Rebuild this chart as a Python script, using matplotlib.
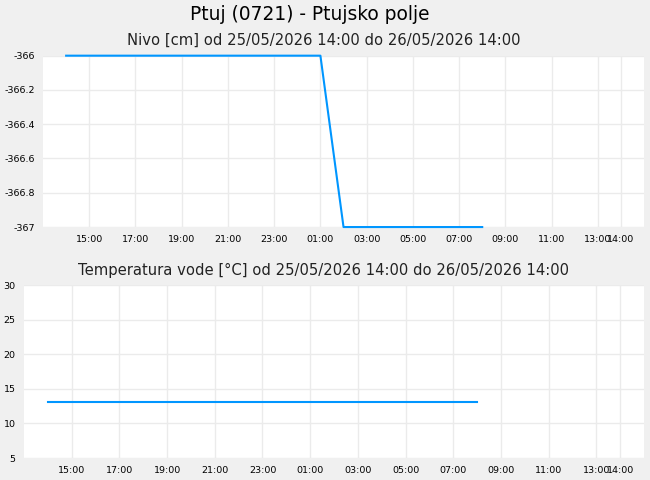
import numpy as np
import matplotlib
matplotlib.use('Agg')
import matplotlib.pyplot as plt
import matplotlib.dates as mdates

# hourly readings, 25/05/2026 14:00 -> 26/05/2026 08:00
times = np.arange(np.datetime64('2026-05-25T14:00'), np.datetime64('2026-05-26T09:00'),
                  np.timedelta64(1, 'h')).astype('datetime64[m]').astype(object)
nivo = [-366, -366, -366, -366, -366, -366, -366, -366, -366, -366, -366, -366,
        -367, -367, -367, -367, -367, -367, -367]
temperatura = [13.1] * 19

x_start = np.datetime64('2026-05-25T13:00').astype(object)
x_end = np.datetime64('2026-05-26T15:00').astype(object)
tick_times = list(np.arange(np.datetime64('2026-05-25T15:00'), np.datetime64('2026-05-26T14:00'),
                            np.timedelta64(2, 'h')).astype('datetime64[m]').astype(object))
tick_times.append(np.datetime64('2026-05-26T14:00').astype(object))

nivo_ticks = [-367, -366.8, -366.6, -366.4, -366.2, -366]
nivo_labels = ['-367', '-366.8', '-366.6', '-366.4', '-366.2', '-366']
temp_ticks = [5, 10, 15, 20, 25, 30]

line_color = '#0096ff'
bg = '#f0f0f0'
grid_color = '#ebebeb'

fig = plt.figure(figsize=(6.5, 4.8), dpi=100, facecolor=bg)
fig.text(0.477, 0.969, 'Ptuj (0721) - Ptujsko polje', ha='center', va='center', fontsize=13.4)
fig.text(0.498, 0.917, 'Nivo [cm] od 25/05/2026 14:00 do 26/05/2026 14:00',
         ha='center', va='center', fontsize=10.6, color='#222222')
fig.text(0.498, 0.437, 'Temperatura vode [°C] od 25/05/2026 14:00 do 26/05/2026 14:00',
         ha='center', va='center', fontsize=10.6, color='#222222')


def style_axis(ax, yticks, ylabels):
    ax.set_facecolor('white')
    for s in ax.spines.values():
        s.set_visible(False)
    ax.set_xlim(x_start, x_end)
    ax.set_xticks(tick_times)
    ax.xaxis.set_major_formatter(mdates.DateFormatter('%H:%M'))
    ax.set_yticks(yticks)
    ax.set_yticklabels(ylabels)
    ax.tick_params(length=0, labelsize=6.8, pad=6)
    ax.grid(True, color=grid_color, linewidth=1)
    ax.set_axisbelow(True)


ax1 = fig.add_axes([0.0662, 0.527, 0.9246, 0.357])
ax1.plot(times, nivo, color=line_color, linewidth=1.5, clip_on=False)
ax1.set_ylim(-367, -366)
style_axis(ax1, nivo_ticks, nivo_labels)

ax2 = fig.add_axes([0.0369, 0.0458, 0.954, 0.360])
ax2.plot(times, temperatura, color=line_color, linewidth=1.5, clip_on=False)
ax2.set_ylim(5, 30)
style_axis(ax2, temp_ticks, [str(t) for t in temp_ticks])

fig.savefig('out.png', dpi=100, facecolor=bg)
